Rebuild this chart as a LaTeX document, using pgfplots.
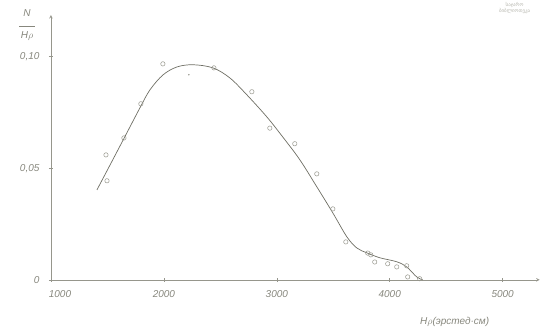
\documentclass[border=0pt]{standalone}
\usepackage{pgfplots}
\pgfplotsset{compat=1.18}
\usepackage{fontspec}
\setmainfont{Liberation Sans}
\newfontfamily\geofont{DejaVu Sans}
\definecolor{inkline}{RGB}{110,110,100}
\definecolor{inktext}{RGB}{135,135,125}
\definecolor{inkaxis}{RGB}{150,150,140}
\begin{document}
\begin{tikzpicture}
\begin{axis}[
  scale only axis, width=489pt, height=265pt,
  xmin=1000, xmax=5328, ymin=0, ymax=0.1187,
  axis lines=left, axis line style={inkaxis, line width=0.6pt, -stealth},
  clip=false,
  xtick={1000,2000,3000,4000,5000},
  xticklabels={\hspace{18pt}1000,2000,3000,4000,5000},
  ytick={0,0.05,0.10},
  yticklabels={0,{0,05},{0,10}},
  tick style={inkaxis, line width=0.6pt},
  major tick length=4pt,
  tick align=center,
  ticklabel style={font=\itshape, text=inktext},
  /pgf/number format/assume math mode=true,
  xticklabel style={yshift=-5pt},
  yticklabel style={xshift=-6pt},
]
\addplot[inkline, line width=0.7pt, smooth, tension=0.55] coordinates {
(1407,0.0403) (1540,0.0531) (1660,0.0647) (1788,0.0771) (1876,0.0851)
(1991,0.0918) (2115,0.0954) (2257,0.0964) (2434,0.0950) (2584,0.0905)
(2735,0.0829) (2912,0.0730) (3053,0.0640) (3204,0.0538) (3354,0.0417)
(3496,0.0300) (3620,0.0193) (3708,0.0143) (3797,0.0121) (3912,0.0099)
(4062,0.0081) (4150,0.0058) (4239,0.0013) (4292,0.0)
};
\addplot[only marks, mark=o, mark size=2.2pt, inkaxis, mark options={line width=0.5pt}] coordinates {
(1496,0.0444) (1487,0.0560) (1646,0.0636) (1796,0.0789) (1991,0.0968)
(2443,0.0950) (2779,0.0843) (2938,0.0680) (3159,0.0610) (3354,0.0475)
(3496,0.0318) (3611,0.0170) (3805,0.0120) (3832,0.0112) (3867,0.0080)
(3982,0.0072) (4062,0.0058) (4150,0.0063) (4159,0.0013) (4265,0.0005)
};
\addplot[only marks, mark=*, mark size=0.5pt, inkaxis] coordinates {(2221,0.0919)};
\node[text=inktext, font=\itshape, align=center, inner sep=1pt] at (axis cs:788,0.114) {N\\[-2pt]\rule{16pt}{0.5pt}\\H$\rho$};
\node[text=inktext, font=\itshape] at (axis cs:4575,-0.0188) {H$\rho$(эрстед·см)};
\node[text=inkaxis!70, font=\geofont\tiny, align=center, inner sep=0pt] at (axis cs:5106,0.122) {საჯარო\\ბიბლიოთეკა};
\path (rel axis cs:-0.1043,-0.2075) rectangle (rel axis cs:1,1.0566);
\end{axis}
\end{tikzpicture}
\end{document}
